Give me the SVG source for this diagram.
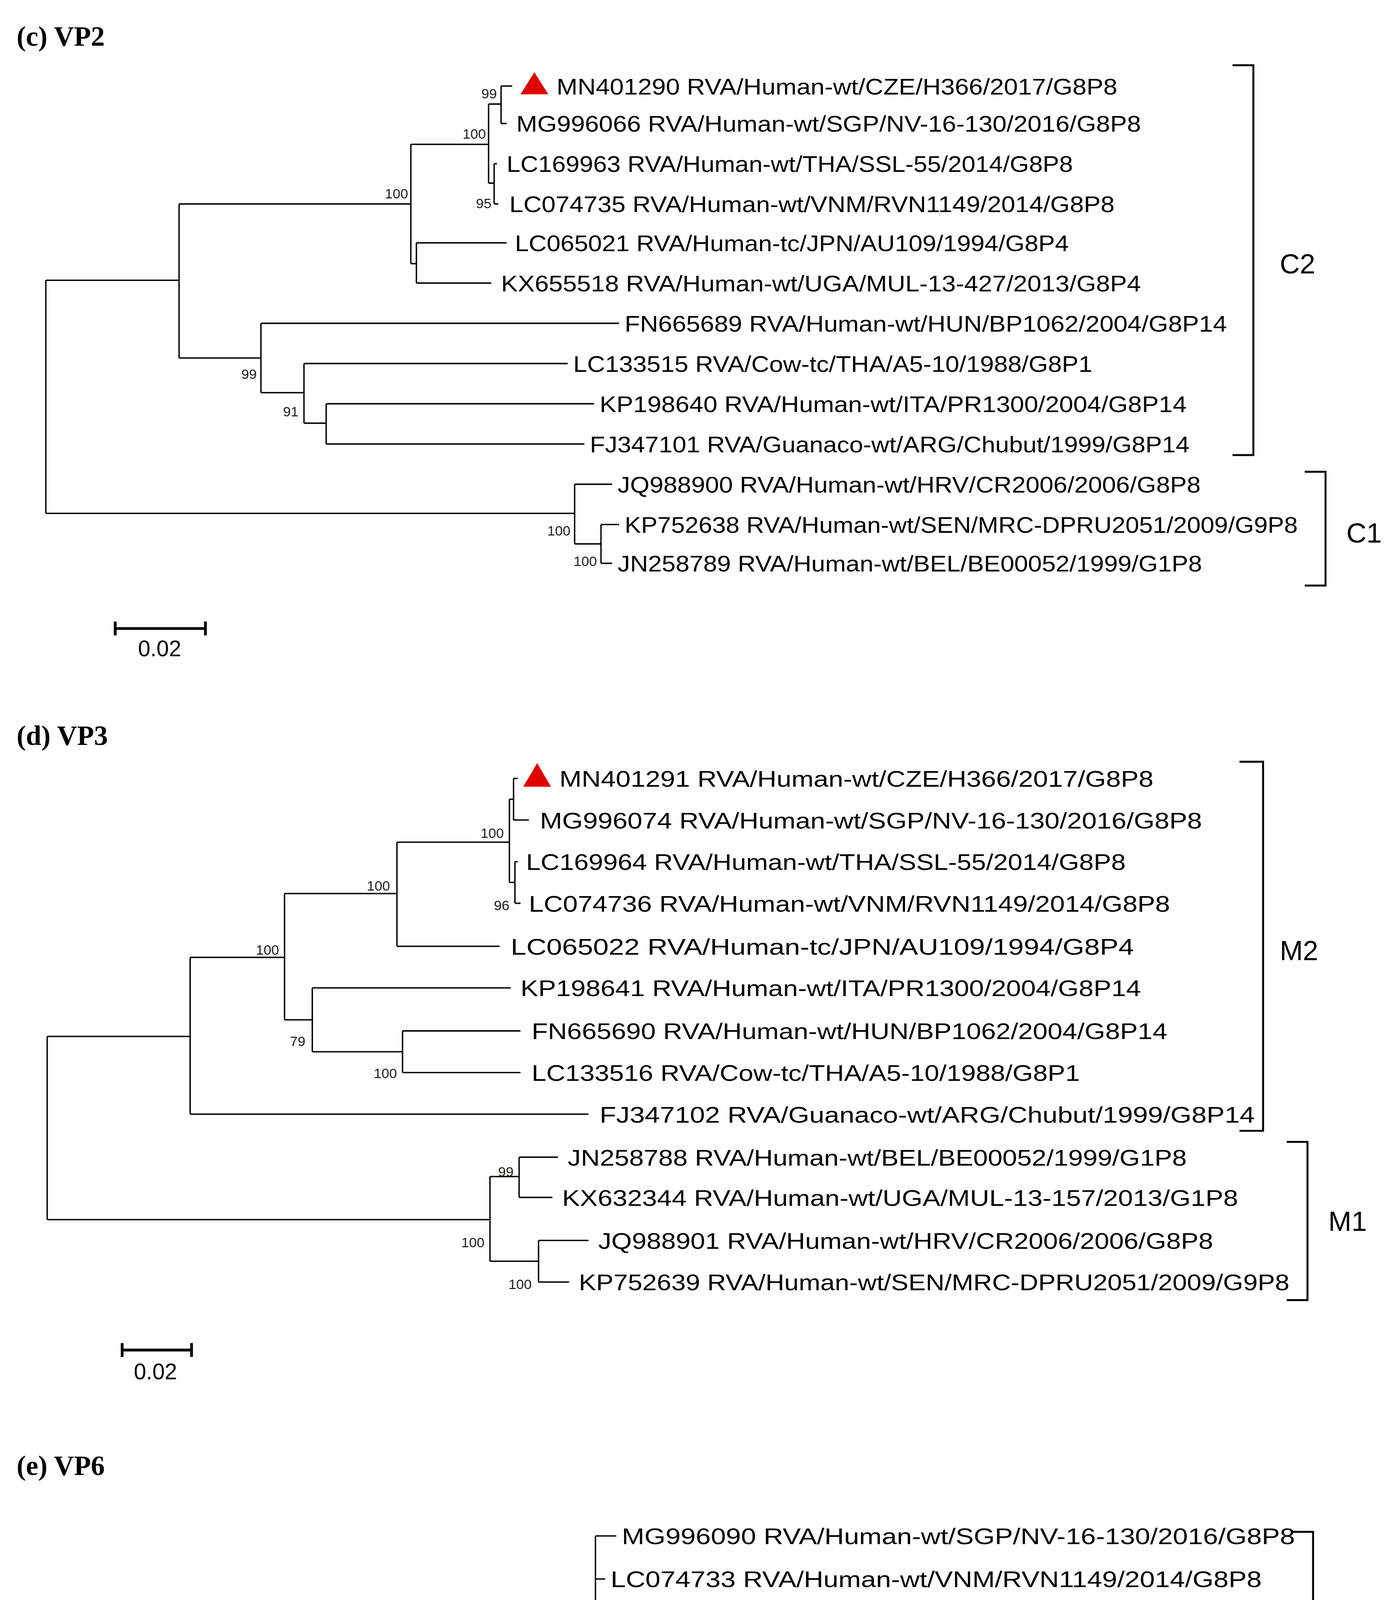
<svg xmlns="http://www.w3.org/2000/svg" width="3552" height="5537" viewBox="0 0 3552 5537">
<style>
.t{font-family:"Liberation Serif",serif;font-weight:bold;font-size:20px;fill:#000}
.l{font-family:"Liberation Sans",Arial,sans-serif;font-size:16px;fill:#000}
.s{font-family:"Liberation Sans",Arial,sans-serif;font-size:10px;fill:#222}
.c{font-family:"Liberation Sans",Arial,sans-serif;font-size:20px;fill:#000}
.br{fill:none;stroke:#000;stroke-width:1.4}
.tr{fill:none;stroke:#000;stroke-width:1}
.sb{fill:none;stroke:#000;stroke-width:2}
.tri{fill:#e00000}
</style>
<rect width="3552" height="5537" fill="#fff"/>
<g transform="scale(3.552)">
<g id="titles">
<text class="t" x="12" y="33">(c) VP2</text>
<text class="t" x="12" y="537">(d) VP3</text>
<text class="t" x="12" y="1063">(e) VP6</text>
</g>
<g id="connectors">
<path class="tr" d="M33,202V370M33,202H129M33,370H414
M129,147V258M129,147H296M129,258H188
M296,104V190M296,104H352M296,190H300
M352,75V132M352,75H361M352,132H356
M361,62V89M361,62H369M361,89H365
M356,118V147M356,118H358M356,147H359
M300,175V204M300,175H365M300,204H354
M188,233V283M188,233H446M188,283H219
M219,262V305M219,262H409M219,305H235
M235,291V320M235,291H428M235,320H421
M414,349V392M414,349H441M414,392H433
M433,378V406M433,378H446M433,406H441"/>
<path class="tr" d="M34,747V879M34,747H137M34,879H353
M137,690V803M137,690H205M137,803H424
M205,644V735M205,644H286M205,735H225
M286,607V682M286,607H367M286,682H360
M367,576V636M367,576H370M367,636H371
M370,561V591M370,561H373M370,591H381
M371,621V651M371,621H373M371,651H375
M225,712V758M225,712H368M225,758H290
M290,743V773M290,743H375M290,773H375
M353,848V909M353,848H374M353,909H388
M374,834V863M374,834H402M374,863H398
M388,894V924M388,894H424M388,924H410"/>
<path class="tr" d="M30,1341V1438M30,1341H164M30,1438H216
M164,1298V1384M164,1298H217M164,1384H411
M217,1242V1353M217,1242H302M217,1353H454
M302,1201V1284M302,1201H353M302,1284H307
M353,1172V1230M353,1172H429M353,1230H434
M429,1107V1198M429,1107H444M429,1138H436M429,1169H440M429,1198H438
M307,1261V1307M307,1261H453M307,1307H331
M331,1292V1322M331,1292H429M331,1322H442
M216,1415V1461M216,1415H375M216,1461H369
M369,1445V1476M369,1445H422M369,1476H452"/>
</g>
<g id="scalebars">
<path class="sb" d="M83,453H148M83,448V458M148,448V458"/>
<text class="l" x="115" y="473" text-anchor="middle">0.02</text>
<path class="sb" d="M88,973H138M88,968V978M138,968V978"/>
<text class="l" x="112" y="994" text-anchor="middle">0.02</text>
<path class="sb" d="M84,1525H152M84,1520V1530M152,1520V1530"/>
<text class="l" x="117" y="1552" text-anchor="middle">0.02</text>
</g>
<g id="supports">
<text class="s" x="358" y="71" text-anchor="end">99</text>
<text class="s" x="350" y="100" text-anchor="end">100</text>
<text class="s" x="354" y="150" text-anchor="end">95</text>
<text class="s" x="294" y="143" text-anchor="end">100</text>
<text class="s" x="185" y="273" text-anchor="end">99</text>
<text class="s" x="215" y="300" text-anchor="end">91</text>
<text class="s" x="411" y="386" text-anchor="end">100</text>
<text class="s" x="430" y="408" text-anchor="end">100</text>
<text class="s" x="363" y="604" text-anchor="end">100</text>
<text class="s" x="281" y="642" text-anchor="end">100</text>
<text class="s" x="201" y="688" text-anchor="end">100</text>
<text class="s" x="367" y="656" text-anchor="end">96</text>
<text class="s" x="220" y="754" text-anchor="end">79</text>
<text class="s" x="286" y="777" text-anchor="end">100</text>
<text class="s" x="370" y="848" text-anchor="end">99</text>
<text class="s" x="349" y="899" text-anchor="end">100</text>
<text class="s" x="383" y="929" text-anchor="end">100</text>
<text class="s" x="427" y="1171" text-anchor="end">100</text>
<text class="s" x="351" y="1202" text-anchor="end">99</text>
<text class="s" x="299" y="1244" text-anchor="end">100</text>
<text class="s" x="214" y="1299" text-anchor="end">98</text>
<text class="s" x="328" y="1331" text-anchor="end">85</text>
<text class="s" x="213" y="1461" text-anchor="end">100</text>
<text class="s" x="367" y="1485" text-anchor="end">100</text>
</g>
<g id="markers">
<polygon class="tri" points="385,52 395,68 375,68"/>
<polygon class="tri" points="387,550 397,567 377,567"/>
<polygon class="tri" points="456,1158 466,1176 445,1176"/>
</g>
<g id="leaves-c">
<text class="l" x="401" y="68" textLength="404" lengthAdjust="spacingAndGlyphs">MN401290 RVA/Human-wt/CZE/H366/2017/G8P8</text>
<text class="l" x="372" y="95" textLength="450" lengthAdjust="spacingAndGlyphs">MG996066 RVA/Human-wt/SGP/NV-16-130/2016/G8P8</text>
<text class="l" x="365" y="124" textLength="408" lengthAdjust="spacingAndGlyphs">LC169963 RVA/Human-wt/THA/SSL-55/2014/G8P8</text>
<text class="l" x="367" y="153" textLength="436" lengthAdjust="spacingAndGlyphs">LC074735 RVA/Human-wt/VNM/RVN1149/2014/G8P8</text>
<text class="l" x="371" y="181" textLength="399" lengthAdjust="spacingAndGlyphs">LC065021 RVA/Human-tc/JPN/AU109/1994/G8P4</text>
<text class="l" x="361" y="210" textLength="461" lengthAdjust="spacingAndGlyphs">KX655518 RVA/Human-wt/UGA/MUL-13-427/2013/G8P4</text>
<text class="l" x="450" y="239" textLength="434" lengthAdjust="spacingAndGlyphs">FN665689 RVA/Human-wt/HUN/BP1062/2004/G8P14</text>
<text class="l" x="413" y="268" textLength="374" lengthAdjust="spacingAndGlyphs">LC133515 RVA/Cow-tc/THA/A5-10/1988/G8P1</text>
<text class="l" x="432" y="297" textLength="423" lengthAdjust="spacingAndGlyphs">KP198640 RVA/Human-wt/ITA/PR1300/2004/G8P14</text>
<text class="l" x="425" y="326" textLength="432" lengthAdjust="spacingAndGlyphs">FJ347101 RVA/Guanaco-wt/ARG/Chubut/1999/G8P14</text>
<text class="l" x="445" y="355" textLength="420" lengthAdjust="spacingAndGlyphs">JQ988900 RVA/Human-wt/HRV/CR2006/2006/G8P8</text>
<text class="l" x="450" y="384" textLength="485" lengthAdjust="spacingAndGlyphs">KP752638 RVA/Human-wt/SEN/MRC-DPRU2051/2009/G9P8</text>
<text class="l" x="445" y="412" textLength="421" lengthAdjust="spacingAndGlyphs">JN258789 RVA/Human-wt/BEL/BE00052/1999/G1P8</text>
</g>
<g id="leaves-d">
<text class="l" x="403" y="567" textLength="428" lengthAdjust="spacingAndGlyphs">MN401291 RVA/Human-wt/CZE/H366/2017/G8P8</text>
<text class="l" x="389" y="597" textLength="477" lengthAdjust="spacingAndGlyphs">MG996074 RVA/Human-wt/SGP/NV-16-130/2016/G8P8</text>
<text class="l" x="379" y="627" textLength="432" lengthAdjust="spacingAndGlyphs">LC169964 RVA/Human-wt/THA/SSL-55/2014/G8P8</text>
<text class="l" x="381" y="657" textLength="462" lengthAdjust="spacingAndGlyphs">LC074736 RVA/Human-wt/VNM/RVN1149/2014/G8P8</text>
<text class="l" x="368" y="688" textLength="449" lengthAdjust="spacingAndGlyphs">LC065022 RVA/Human-tc/JPN/AU109/1994/G8P4</text>
<text class="l" x="375" y="718" textLength="447" lengthAdjust="spacingAndGlyphs">KP198641 RVA/Human-wt/ITA/PR1300/2004/G8P14</text>
<text class="l" x="383" y="749" textLength="458" lengthAdjust="spacingAndGlyphs">FN665690 RVA/Human-wt/HUN/BP1062/2004/G8P14</text>
<text class="l" x="383" y="779" textLength="395" lengthAdjust="spacingAndGlyphs">LC133516 RVA/Cow-tc/THA/A5-10/1988/G8P1</text>
<text class="l" x="432" y="809" textLength="472" lengthAdjust="spacingAndGlyphs">FJ347102 RVA/Guanaco-wt/ARG/Chubut/1999/G8P14</text>
<text class="l" x="409" y="840" textLength="446" lengthAdjust="spacingAndGlyphs">JN258788 RVA/Human-wt/BEL/BE00052/1999/G1P8</text>
<text class="l" x="405" y="869" textLength="487" lengthAdjust="spacingAndGlyphs">KX632344 RVA/Human-wt/UGA/MUL-13-157/2013/G1P8</text>
<text class="l" x="431" y="900" textLength="443" lengthAdjust="spacingAndGlyphs">JQ988901 RVA/Human-wt/HRV/CR2006/2006/G8P8</text>
<text class="l" x="417" y="930" textLength="512" lengthAdjust="spacingAndGlyphs">KP752639 RVA/Human-wt/SEN/MRC-DPRU2051/2009/G9P8</text>
</g>
<g id="leaves-e">
<text class="l" x="448" y="1113" textLength="485" lengthAdjust="spacingAndGlyphs">MG996090 RVA/Human-wt/SGP/NV-16-130/2016/G8P8</text>
<text class="l" x="440" y="1144" textLength="469" lengthAdjust="spacingAndGlyphs">LC074733 RVA/Human-wt/VNM/RVN1149/2014/G8P8</text>
<text class="l" x="473" y="1175" textLength="433" lengthAdjust="spacingAndGlyphs">MN401292 RVA/Human-wt/CZE/H366/2017/G8P8</text>
<text class="l" x="442" y="1204" textLength="438" lengthAdjust="spacingAndGlyphs">LC169966 RVA/Human-wt/THA/SSL-55/2014/G8P8</text>
<text class="l" x="438" y="1236" textLength="402" lengthAdjust="spacingAndGlyphs">LC133518 RVA/Cow-tc/THA/A5-10/1988/G8P1</text>
<text class="l" x="457" y="1267" textLength="464" lengthAdjust="spacingAndGlyphs">FJ347104 RVA/Guanaco-wt/ARG/Chubut/1999/G8P14</text>
<text class="l" x="433" y="1298" textLength="465" lengthAdjust="spacingAndGlyphs">FN665693 RVA/Human-wt/HUN/BP1062/2004/G8P14</text>
<text class="l" x="446" y="1328" textLength="394" lengthAdjust="spacingAndGlyphs">GU984758 RVA/Cow-wt/IND/79/2007/G8P14</text>
<text class="l" x="458" y="1359" textLength="453" lengthAdjust="spacingAndGlyphs">KP198638 RVA/Human-wt/ITA/PR1300/2004/G8P14</text>
<text class="l" x="415" y="1390" textLength="428" lengthAdjust="spacingAndGlyphs">LC065019 RVA/Human-tc/JPN/AU109/1994/G8P4</text>
<text class="l" x="379" y="1421" textLength="451" lengthAdjust="spacingAndGlyphs">JN258780 RVA/Human-wt/BEL/BE00052/1999/G1P8</text>
<text class="l" x="426" y="1451" textLength="494" lengthAdjust="spacingAndGlyphs">KX632346 RVA/Human-wt/UGA/MUL-13-157/2013/G1P8</text>
<text class="l" x="456" y="1482" textLength="451" lengthAdjust="spacingAndGlyphs">JQ988903 RVA/Human-wt/HRV/CR2006/2006/G8P8</text>
</g>
<g id="clades">
<path class="br" d="M888,47H903V328H888"/>
<text class="c" x="922" y="197">C2</text>
<path class="br" d="M940,340H955V422H940"/>
<text class="c" x="970" y="391">C1</text>
<path class="br" d="M893,549H910V815H893"/>
<text class="c" x="922" y="692">M2</text>
<path class="br" d="M927,823H942V937H927"/>
<text class="c" x="957" y="887">M1</text>
<path class="br" d="M930,1104H946V1397H930"/>
<text class="c" x="966" y="1262">I2</text>
<path class="br" d="M912,1405H929V1480H912"/>
<text class="c" x="945" y="1450">I1</text>
</g>
</g>
</svg>
